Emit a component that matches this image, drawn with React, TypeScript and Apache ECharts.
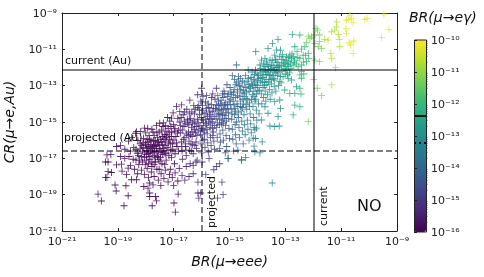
import React, { useEffect, useRef } from "react";
import * as echarts from "echarts";

// All values are log10 of the quantity; each band holds [log BR(mu->eee), log CR(mu->e,Au)]
const expBandA = -15.9;
const bandA = [
[-19.71,-18.97],[-19.59,-19.35],[-18.78,-19.61],[-18.63,-19.06],[-19.06,-18.8],[-19.1,-18.47],[-18.71,-18.51],[-19.44,-18.05],[-19.39,-18.05],[-19.23,-17.78],[-19.35,-17.73],[-19.35,-17.2],[-19.39,-16.81],[-19.25,-16.8],[-19.44,-17.2],[-19.05,-16.35],[-18.9,-16.3],[-19.05,-17.36],[-18.87,-17.32],[-18.75,-17.0],[-18.63,-17.54],[-18.69,-17.9],[-18.51,-18.18],[-18.33,-18.18],[-18.07,-18.55],[-17.86,-18.36],[-17.92,-18.64],[-17.74,-18.46],[-17.46,-18.5],[-17.86,-19.1],[-17.65,-19.1],[-17.62,-19.34],[-17.77,-19.61],[-17.86,-18.91],[-16.94,-19.96],[-16.99,-19.46],[-16.84,-18.97],
[-18.62,-16.05],[-18.5,-15.85],[-18.43,-16.4],[-18.37,-15.62],[-18.3,-16.72],[-18.28,-16.02],[-18.22,-17.1],[-18.18,-15.52],[-18.15,-16.3],[-18.12,-16.6],[-18.08,-15.9],[-18.05,-16.95],[-18.02,-17.35],[-18.0,-16.15],[-17.97,-16.45],[-17.93,-15.35],[-17.9,-16.75],[-17.88,-15.75],[-17.85,-17.05],[-17.82,-16.25],[-17.8,-16.55],[-17.78,-17.45],[-17.74,-15.55],[-17.72,-16.02],[-17.7,-16.85],[-17.68,-16.35],[-17.65,-17.2],[-17.62,-15.2],[-17.6,-16.62],[-17.57,-15.85],[-17.54,-16.15],[-17.52,-17.6],[-17.5,-16.45],[-17.47,-16.95],[-17.44,-15.45],[-17.42,-17.3],[-17.4,-16.25],[-17.37,-15.05],[-17.34,-16.7],[-17.32,-15.7],[-17.3,-16.05],[-17.27,-17.1],[-17.24,-16.4],[-17.22,-14.75],[-17.2,-15.35],[-17.17,-16.85],[-17.15,-15.95],[-17.12,-17.6],[-17.1,-16.55],[-17.07,-15.55],[-17.04,-16.2],[-17.02,-14.5],[-17.0,-15.15],[-16.97,-17.3],[-16.95,-16.75],[-16.92,-15.8],[-16.9,-14.15],[-16.88,-16.35],[-16.85,-14.8],[-16.82,-15.45],
[-18.9,-16.9],[-18.85,-17.7],[-18.75,-16.5],[-18.6,-16.9],[-18.55,-17.4],[-18.45,-17.05],[-18.4,-17.6],[-18.3,-17.85],[-18.25,-17.35],[-18.15,-17.65],[-18.05,-17.9],[-17.95,-17.55],[-17.9,-18.05],[-17.8,-17.75],[-17.7,-18.0],[-17.6,-17.6],[-17.55,-18.2],[-17.45,-17.85],[-17.35,-18.1],[-17.3,-17.65],[-17.2,-18.3],[-17.15,-17.9],[-17.05,-18.05],[-17.0,-18.5],[-16.95,-17.8],[-16.85,-18.25],[-16.8,-17.55],
[-18.33,-15.53],[-18.04,-15.34],[-17.5,-15.07],[-17.38,-15.25],[-17.08,-14.79],[-18.2,-16.48],[-18.1,-16.15],[-17.98,-16.8],[-17.92,-16.1],[-17.85,-16.4],[-17.75,-16.7],[-17.66,-16.05],[-17.58,-16.9],[-17.48,-15.95],[-17.36,-16.45],[-17.28,-15.5],[-17.18,-16.15],[-17.08,-16.95],[-18.55,-16.6],[-18.35,-17.1],[-17.95,-15.95],[-17.78,-15.4],[-17.6,-15.6],[-17.42,-16.65],[-17.25,-15.85],[-17.1,-15.25],[-16.98,-15.5],
[-18.35,-16.5],[-18.27,-16.85],[-18.2,-16.2],[-18.16,-16.9],[-18.12,-17.2],[-18.09,-16.4],[-18.05,-16.7],[-18.01,-16.25],[-17.98,-17.1],[-17.94,-16.6],[-17.91,-16.35],[-17.88,-16.9],[-17.84,-16.65],[-17.81,-16.05],[-17.78,-17.2],[-17.76,-16.45],[-17.73,-16.3],[-17.7,-16.6],[-17.67,-16.95],[-17.64,-16.25],[-17.61,-16.45],[-17.58,-16.1],[-17.55,-16.7],[-17.52,-16.3],[-17.49,-17.15],[-17.46,-16.55],[-17.43,-16.1],[-17.39,-16.8],[-17.35,-15.95],[-17.31,-16.3],[-17.28,-16.75],[-17.24,-15.7],[-17.2,-16.55],[-17.16,-15.6],[-17.12,-16.2],[-17.08,-15.8],[-17.03,-16.5],[-16.99,-16.0],[-16.95,-15.35],[-16.9,-16.15],[-16.86,-15.6],[-16.83,-16.6],[-18.0,-15.6],[-17.86,-15.95],[-17.7,-15.75],[-17.52,-15.55],[-17.4,-15.8],[-17.3,-15.2],[-17.14,-14.95],[-17.9,-17.3],[-17.7,-17.35],[-17.55,-17.05],[-17.32,-17.35]
];
const expBandB = -15.4;
const bandB = [
[-16.78,-14.43],[-16.72,-14.06],[-16.42,-13.8],[-16.14,-13.5],[-16.78,-15.0],[-16.75,-15.6],[-16.72,-16.1],[-16.7,-16.6],[-16.68,-17.05],[-16.66,-14.6],[-16.63,-15.25],[-16.6,-15.85],[-16.58,-16.35],[-16.55,-16.85],[-16.53,-14.3],[-16.5,-15.05],[-16.47,-15.55],[-16.45,-16.05],[-16.43,-16.55],[-16.41,-17.3],[-16.39,-14.8],[-16.36,-15.3],[-16.34,-15.8],[-16.32,-16.25],[-16.3,-16.75],[-16.28,-14.1],[-16.26,-14.55],[-16.24,-15.1],[-16.22,-15.6],[-16.2,-16.1],[-16.18,-16.45],[-16.16,-17.1],[-16.7,-17.95],[-16.6,-18.2],[-16.55,-17.45],[-16.45,-18.0],[-16.3,-17.4],[-16.3,-17.85],[-16.2,-17.2],[-16.13,-18.91],[-16.03,-18.91],[-16.1,-19.19],[-16.13,-18.31],[-16.62,-14.95],[-16.48,-15.75],[-16.37,-16.6],[-16.25,-15.4],[-16.15,-14.85],[-16.57,-16.2],[-16.44,-14.55],[-16.33,-15.05],
[-16.76,-15.2],[-16.73,-14.75],[-16.69,-15.45],[-16.65,-15.95],[-16.61,-14.45],[-16.59,-15.1],[-16.54,-15.65],[-16.51,-14.85],[-16.46,-15.15],[-16.42,-14.9],[-16.4,-15.7],[-16.35,-14.45],[-16.31,-15.55],[-16.27,-14.95],[-16.23,-14.3],[-16.19,-15.25],[-16.17,-15.75],[-16.14,-14.2],[-16.12,-15.05],[-16.71,-16.35],[-16.56,-16.55],[-16.38,-16.2],[-16.24,-16.3]
];
const expBandC = -15.0;
const bandC = [
[-16.0,-13.14],[-16.1,-14.1],[-16.08,-14.6],[-16.06,-15.2],[-16.04,-15.7],[-16.02,-16.2],[-16.0,-16.7],[-15.98,-17.2],[-15.96,-14.35],[-15.94,-14.9],[-15.92,-15.45],[-15.9,-15.95],[-15.88,-16.4],[-15.86,-13.9],[-15.84,-14.5],[-15.82,-15.1],[-15.8,-15.65],[-15.78,-16.15],[-15.76,-16.65],[-15.74,-14.2],[-15.72,-14.8],[-15.7,-15.3],[-15.68,-15.85],[-15.66,-16.3],[-15.64,-13.65],[-15.62,-14.45],[-15.6,-15.0],[-15.58,-15.55],[-15.56,-16.05],[-15.54,-16.5],[-15.73,-17.0],[-15.85,-17.9],[-15.56,-17.63],[-16.12,-15.45],[-16.03,-13.85],[-15.95,-16.0],[-15.87,-15.2],[-15.77,-14.0],[-15.69,-14.6],[-15.6,-15.75],[-15.52,-13.75],[-15.5,-14.25],[-15.47,-13.14],[-15.47,-17.45],[-15.35,-17.3],[-15.27,-18.31],[-15.23,-19.0],[-15.43,-19.19],
[-16.07,-14.35],[-16.01,-14.75],[-15.99,-15.35],[-15.97,-14.1],[-15.93,-15.05],[-15.91,-14.55],[-15.89,-15.6],[-15.85,-14.85],[-15.83,-14.25],[-15.81,-15.4],[-15.79,-14.7],[-15.75,-15.0],[-15.71,-14.4],[-15.67,-15.1],[-15.65,-14.05],[-15.63,-14.85],[-15.61,-15.35],[-15.57,-14.25],[-15.55,-14.7],[-15.53,-15.2],[-15.6,-13.45],[-15.95,-13.6],[-16.05,-15.5],[-15.82,-13.55]
];
const expBandD = -14.5;
const bandD = [
[-15.48,-14.8],[-15.46,-15.3],[-15.44,-15.85],[-15.42,-13.55],[-15.4,-14.1],[-15.38,-14.6],[-15.36,-15.15],[-15.34,-15.65],[-15.32,-16.1],[-15.3,-13.8],[-15.28,-14.35],[-15.26,-14.9],[-15.24,-15.45],[-15.22,-16.0],[-15.2,-13.3],[-15.18,-14.05],[-15.16,-14.65],[-15.14,-15.2],[-15.12,-15.75],[-15.1,-16.35],[-15.08,-13.6],[-15.06,-14.25],[-15.04,-14.8],[-15.02,-15.35],[-15.05,-17.0],[-15.0,-15.9],[-15.15,-16.7],[-15.35,-16.45],[-15.25,-13.45],[-15.12,-14.5],[-15.45,-14.35],[-15.33,-14.0],[-15.09,-12.95],[-15.22,-15.05],
[-15.47,-14.05],[-15.43,-15.05],[-15.41,-14.55],[-15.39,-13.85],[-15.37,-14.3],[-15.35,-14.85],[-15.31,-14.55],[-15.29,-15.1],[-15.27,-14.1],[-15.25,-14.6],[-15.23,-13.65],[-15.21,-14.3],[-15.19,-14.8],[-15.17,-13.45],[-15.15,-13.95],[-15.13,-14.25],[-15.11,-14.95],[-15.07,-14.05],[-15.05,-13.45],[-15.03,-14.5],[-15.01,-13.85]
];
const expBandE = -14.0;
const bandE = [
[-14.98,-13.1],[-14.96,-13.75],[-14.94,-14.3],[-14.92,-14.85],[-14.9,-15.4],[-14.88,-15.95],[-14.86,-13.4],[-14.84,-14.05],[-14.82,-14.6],[-14.8,-15.15],[-14.78,-15.7],[-14.76,-16.2],[-14.74,-12.85],[-14.72,-13.55],[-14.7,-14.15],[-14.68,-14.75],[-14.66,-15.3],[-14.64,-15.85],[-14.62,-13.2],[-14.6,-13.85],[-14.58,-14.4],[-14.56,-14.95],[-14.54,-15.5],[-14.57,-17.08],[-14.57,-17.1],[-14.51,-16.2],[-14.85,-16.6],[-14.7,-16.55],[-15.05,-17.0],[-14.92,-13.5],[-14.78,-14.4],[-14.65,-13.0],[-14.53,-12.75],[-14.42,-16.96],[-14.6,-12.6],[-14.48,-13.45],[-14.75,-15.0],
[-14.75,-11.86],[-14.9,-12.45],[-14.97,-14.05],[-14.95,-13.35],[-14.91,-14.55],[-14.87,-13.85],[-14.83,-13.2],[-14.81,-14.25],[-14.79,-13.65],[-14.77,-12.95],[-14.73,-14.0],[-14.71,-13.3],[-14.69,-14.5],[-14.67,-12.75],[-14.63,-13.6],[-14.61,-14.15],[-14.59,-13.05],[-14.55,-13.4],[-14.53,-14.2],[-14.52,-13.75],[-14.82,-12.65],[-14.68,-12.5]
];
const expBandF = -13.5;
const bandF = [
[-14.5,-14.0],[-14.48,-14.6],[-14.46,-15.15],[-14.44,-15.7],[-14.42,-13.1],[-14.4,-13.7],[-14.38,-14.3],[-14.36,-14.9],[-14.34,-15.4],[-14.32,-12.6],[-14.3,-13.3],[-14.28,-13.95],[-14.26,-14.55],[-14.24,-15.1],[-14.22,-15.6],[-14.2,-12.9],[-14.18,-13.5],[-14.16,-14.15],[-14.14,-14.75],[-14.12,-15.3],[-14.1,-12.4],[-14.08,-13.1],[-14.06,-13.75],[-14.04,-14.35],[-14.02,-14.9],[-14.0,-12.7],[-13.98,-13.3],[-13.96,-14.0],[-13.94,-14.55],[-14.33,-12.14],[-14.3,-16.0],[-14.12,-16.33],[-14.09,-16.64],[-14.07,-15.91],[-14.03,-15.34],[-14.09,-15.43],[-14.15,-15.89],[-13.91,-16.7],[-13.83,-16.09],[-14.06,-11.13],[-14.27,-13.05],[-14.12,-13.6],[-13.97,-12.45],
[-14.49,-13.25],[-14.47,-12.85],[-14.45,-13.6],[-14.43,-12.45],[-14.41,-14.05],[-14.39,-13.35],[-14.37,-12.75],[-14.35,-13.8],[-14.31,-12.95],[-14.29,-14.15],[-14.25,-13.15],[-14.23,-12.55],[-14.21,-13.75],[-14.19,-12.25],[-14.17,-13.0],[-14.15,-12.65],[-14.13,-13.3],[-14.11,-12.8],[-14.09,-13.85],[-14.07,-12.15],[-14.05,-12.95],[-14.03,-13.45],[-14.01,-12.35],[-13.99,-13.0],[-13.95,-12.6],[-13.93,-13.25]
];
const expBandG = -13.0;
const bandG = [
[-13.91,-11.86],[-13.9,-12.3],[-13.88,-12.85],[-13.86,-13.45],[-13.85,-11.59],[-13.84,-14.0],[-13.85,-14.89],[-13.82,-12.55],[-13.8,-13.1],[-13.78,-13.65],[-13.76,-12.1],[-13.74,-12.8],[-13.73,-11.5],[-13.73,-11.96],[-13.72,-13.3],[-13.73,-14.16],[-13.7,-13.85],[-13.68,-12.4],[-13.66,-12.95],[-13.64,-13.5],[-13.62,-10.95],[-13.62,-14.52],[-13.6,-12.15],[-13.58,-12.65],[-13.56,-13.2],[-13.55,-11.59],[-13.55,-15.22],[-13.54,-13.75],[-13.52,-12.4],[-13.5,-12.9],[-13.49,-11.86],[-13.48,-13.4],[-13.47,-18.36],[-13.46,-10.67],[-13.44,-12.15],[-13.42,-12.6],[-13.4,-13.05],[-13.38,-12.69],[-13.38,-13.88],[-13.38,-15.25],[-13.38,-11.32],[-13.36,-12.3],[-13.32,-11.04],[-13.34,-13.3],[-13.3,-12.0],[-13.28,-12.45],[-13.26,-10.45],[-13.26,-11.96],[-13.26,-14.7],[-13.24,-13.0],[-13.22,-15.22],[-13.2,-11.41],[-13.2,-12.78],[-13.2,-13.79],[-13.17,-11.04],[-13.17,-14.25],[-13.65,-11.85],[-13.48,-12.05],[-13.33,-11.7],
[-13.89,-12.05],[-13.87,-12.6],[-13.83,-12.2],[-13.81,-12.8],[-13.79,-11.8],[-13.77,-12.4],[-13.75,-13.0],[-13.71,-12.2],[-13.69,-12.65],[-13.67,-11.7],[-13.63,-12.25],[-13.61,-12.8],[-13.59,-11.95],[-13.57,-12.45],[-13.53,-12.1],[-13.51,-12.65],[-13.47,-11.6],[-13.45,-12.45],[-13.41,-11.9],[-13.39,-12.15],[-13.35,-11.55],[-13.31,-12.2],[-13.27,-11.7],[-13.23,-12.25],[-13.21,-11.9],[-13.18,-12.5]
];
const expBandH = -12.5;
const bandH = [
[-13.14,-11.86],[-13.12,-12.2],[-13.08,-11.55],[-13.08,-12.51],[-13.05,-12.05],[-13.02,-11.77],[-13.02,-13.24],[-13.0,-12.35],[-12.96,-11.41],[-12.95,-12.15],[-12.9,-11.68],[-12.88,-11.95],[-12.85,-12.3],[-12.84,-11.32],[-12.84,-13.42],[-12.8,-12.05],[-12.78,-11.5],[-12.78,-12.69],[-12.75,-10.18],[-12.72,-11.86],[-12.72,-14.61],[-12.68,-11.7],[-12.66,-10.86],[-12.66,-11.59],[-12.66,-13.42],[-12.66,-14.07],[-12.6,-13.06],[-13.1,-11.3],[-13.0,-11.95],[-12.92,-12.4],[-13.15,-12.85],[-12.9,-12.6],
[-13.13,-11.55],[-13.06,-11.75],[-12.98,-11.6],[-12.93,-11.85],[-12.87,-11.45],[-12.82,-11.75],[-12.76,-11.25],[-12.7,-11.4]
];
const expBandI = -12.0;
const bandI = [
[-12.58,-11.13],[-12.54,-11.96],[-12.48,-10.21],[-12.48,-11.5],[-12.48,-12.41],[-12.48,-13.14],[-12.48,-14.16],[-12.44,-13.46],[-12.42,-10.99],[-12.42,-11.86],[-12.42,-12.23],[-12.42,-12.59],[-12.36,-11.32],[-12.34,-12.36],[-12.3,-10.86],[-12.24,-11.68],[-12.18,-11.22],[-12.16,-11.5],[-12.55,-11.45],[-12.6,-11.8],[-12.35,-11.7],[-12.28,-11.35]
];
const expBandJ = -11.3;
const bandJ = [
[-12.24,-10.64],[-12.18,-10.27],[-12.12,-10.39],[-12.06,-10.31],[-11.94,-10.21],[-11.94,-10.67],[-11.94,-11.59],[-11.9,-9.85],[-11.85,-9.94],[-11.82,-10.86],[-11.77,-10.21],[-11.77,-10.58],[-11.77,-11.68],[-11.7,-10.95],[-11.98,-12.65],[-11.86,-13.14],[-11.7,-13.55],[-12.18,-14.98]
];
const expBandK = -10.7;
const bandK = [
[-11.59,-10.45],[-11.47,-10.49],[-11.37,-11.22],[-11.34,-10.03],[-11.34,-11.5],[-11.34,-12.96],[-11.23,-9.94],[-11.2,-12.01],[-11.16,-9.49],[-11.16,-9.76],[-11.1,-10.18],[-11.07,-10.45],[-11.05,-10.86]
];
const expBandL = -10.2;
const bandL = [
[-10.83,-9.85],[-10.81,-9.39],[-10.81,-10.12],[-10.75,-9.35],[-10.71,-10.64],[-10.69,-9.12],[-10.66,-10.76],[-10.63,-9.3],[-10.57,-9.54],[-10.57,-11.22],[-10.55,-10.54],[-10.15,-9.35],[-10.07,-9.3],[-9.55,-10.34],[-9.47,-9.06],[-9.29,-9.9]
];

const xTicks = [-21, -19, -17, -15, -13, -11, -9];
const yTicks = [-21, -19, -17, -15, -13, -11, -9];
const cbMajor = [-16, -15, -14, -13, -12, -11, -10];
const cbMinorFactors = [2, 3, 4, 5, 6, 7, 8, 9];
const currentBReee = -12;
const projectedBReee = -16;
const currentCR = -12.14;
const projectedCR = -16.59;
const cbCurrent = -12.38;
const cbProjected = -13.2;
const viridis = ["#440154", "#482878", "#3e4989", "#31688e", "#26828e", "#1f9e89", "#35b779", "#6ece58", "#b5de2b", "#fde725"];

const SUP: Record<string, string> = { "-": "⁻", "0": "⁰", "1": "¹", "2": "²", "3": "³", "4": "⁴", "5": "⁵", "6": "⁶", "7": "⁷", "8": "⁸", "9": "⁹" };
const pow10 = (v: number) => "10" + String(Math.round(v)).split("").map((c) => SUP[c]).join("");

const FONT = "DejaVu Sans";
const PLUS = "path://M4.4 0H5.6V4.4H10V5.6H5.6V10H4.4V5.6H0V4.4H4.4Z";

export default function App() {
  const ref = useRef<HTMLDivElement>(null);
  useEffect(() => {
    document.body.style.margin = "0";
    const chart = echarts.init(ref.current!, undefined, { renderer: "svg" });
    const bands: [number, number[][]][] = [
      [expBandA, bandA], [expBandB, bandB], [expBandC, bandC], [expBandD, bandD],
      [expBandE, bandE], [expBandF, bandF], [expBandG, bandG], [expBandH, bandH],
      [expBandI, bandI], [expBandJ, bandJ], [expBandK, bandK], [expBandL, bandL],
    ];
    const points = bands.flatMap(([c, list]) => list.map(([x, y]) => [x, y, c]));
    const cbMinor = cbMajor.slice(0, -1).flatMap((e) => cbMinorFactors.map((k) => e + Math.log10(k)));
    const refLine = { color: "rgba(0,0,0,0.5)", width: 2 };
    const tickStyle = { color: "#222", width: 1 };
    const hiddenParts = { axisLabel: { show: false }, splitLine: { show: false } };
    const mainX = { type: "value", gridIndex: 0, min: -21, max: -9, interval: 1, splitLine: { show: false }, axisLine: { onZero: false, lineStyle: { color: "#222", width: 1 } }, axisTick: { inside: true, length: 3, lineStyle: tickStyle, customValues: xTicks } };
    const mainY = { type: "value", gridIndex: 0, min: -21, max: -9, interval: 1, splitLine: { show: false }, axisLine: { onZero: false, lineStyle: { color: "#222", width: 1 } }, axisTick: { inside: true, length: 3, lineStyle: tickStyle, customValues: yTicks } };
    chart.setOption({
      animation: false,
      textStyle: { fontFamily: FONT },
      grid: [
        { left: 62, top: 13, width: 335, height: 218, outerBoundsMode: "none" },
        { left: 414, top: 40, width: 12, height: 192, outerBoundsMode: "none" },
      ],
      xAxis: [
        { ...mainX, position: "bottom", name: "BR(μ→eee)", nameLocation: "middle", nameGap: 23, nameTextStyle: { fontFamily: FONT, fontStyle: "italic", fontSize: 14, color: "#111" },
          axisLabel: { customValues: xTicks, formatter: (v: number) => pow10(v), fontFamily: FONT, fontSize: 11, color: "#222", margin: 5 } },
        { ...mainX, position: "top", ...hiddenParts },
        { type: "value", gridIndex: 1, min: 0, max: 1, show: false },
      ],
      yAxis: [
        { ...mainY, position: "left", name: "CR(μ→e,Au)", nameLocation: "middle", nameGap: 46, nameMoveOverlap: false, nameTextStyle: { fontFamily: FONT, fontStyle: "italic", fontSize: 14, color: "#111" },
          axisLabel: { customValues: yTicks, formatter: (v: number) => pow10(v), fontFamily: FONT, fontSize: 11, color: "#222", margin: 5 } },
        { ...mainY, position: "right", ...hiddenParts },
        { type: "value", gridIndex: 1, position: "right", min: -16, max: -10, interval: 1, z: 10, splitLine: { show: false },
          axisLine: { show: false },
          axisTick: { inside: false, length: 3, lineStyle: tickStyle, customValues: cbMajor },
          axisLabel: { customValues: cbMajor, formatter: (v: number) => pow10(v), fontFamily: FONT, fontSize: 11, color: "#222", margin: 5 } },
        { type: "value", gridIndex: 1, position: "right", min: -16, max: -10, interval: 1, z: 10, splitLine: { show: false }, axisLabel: { show: false },
          axisLine: { show: false },
          axisTick: { inside: false, length: 1.5, lineStyle: { color: "#222", width: 0.6 }, customValues: cbMinor } },
      ],
      visualMap: {
        type: "continuous", seriesIndex: 0, dimension: 2, min: -16, max: -10, show: true, calculable: false, hoverLink: false,
        left: 414, top: 40, itemWidth: 12, itemHeight: 192, padding: 0, text: ["", ""], showLabel: false,
        inRange: { color: viridis },
      },
      series: [
        {
          type: "scatter", xAxisIndex: 0, yAxisIndex: 0, data: points, symbol: PLUS, symbolSize: 7, itemStyle: { opacity: 0.9 }, silent: true, z: 2,
        },
        {
          type: "scatter", xAxisIndex: 0, yAxisIndex: 0, data: [], silent: true, z: 5,
          markLine: {
            silent: true, symbol: "none", label: { show: false }, z: 5,
            data: [
              { xAxis: currentBReee, lineStyle: { ...refLine, type: "solid" } },
              { yAxis: currentCR, lineStyle: { ...refLine, type: "solid" } },
              { xAxis: projectedBReee, lineStyle: { ...refLine, type: [6, 3] } },
              { yAxis: projectedCR, lineStyle: { ...refLine, type: [6, 3] } },
            ],
          },
        },
        {
          type: "scatter", xAxisIndex: 2, yAxisIndex: 2, data: [], silent: true, z: 8,
          markLine: {
            silent: true, symbol: "none", label: { show: false }, z: 8,
            data: [
              { yAxis: cbCurrent, lineStyle: { color: "#111", width: 2, type: "solid" } },
              { yAxis: cbProjected, lineStyle: { color: "#111", width: 2, type: [2, 3] } },
            ],
          },
        },
      ],
      graphic: [
        { type: "rect", z: 20, shape: { x: 414.5, y: 40, width: 12, height: 192 }, style: { fill: "none", stroke: "#222", lineWidth: 1 }, silent: true },
        { type: "text", z: 20, x: 409, y: 10, style: { text: "BR(μ→eγ)", font: `italic 14px '${FONT}'`, fill: "#111" }, silent: true },
        { type: "text", z: 20, x: 65, y: 55, style: { text: "current (Au)", font: `11px '${FONT}'`, fill: "#111" }, silent: true },
        { type: "text", z: 20, x: 64, y: 132, style: { text: "projected (Au)", font: `11px '${FONT}'`, fill: "#111" }, silent: true },
        { type: "text", z: 20, x: 206, y: 228, rotation: Math.PI / 2, style: { text: "projected", font: `11px '${FONT}'`, fill: "#111" }, silent: true },
        { type: "text", z: 20, x: 318, y: 226, rotation: Math.PI / 2, style: { text: "current", font: `11px '${FONT}'`, fill: "#111" }, silent: true },
        { type: "text", z: 20, x: 357, y: 197, style: { text: "NO", font: `16px '${FONT}'`, fill: "#111" }, silent: true },
      ],
    });
    return () => chart.dispose();
  }, []);
  return <div ref={ref} style={{ width: 484, height: 277, position: "fixed", left: 0, top: 0 }} />;
}
